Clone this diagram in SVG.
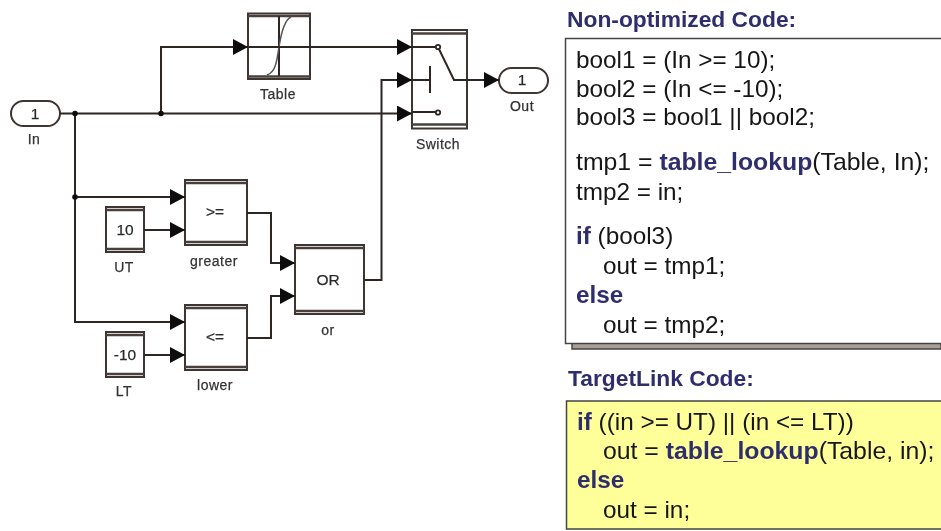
<svg xmlns="http://www.w3.org/2000/svg" width="941" height="531" viewBox="0 0 941 531">
<style>
.w{fill:none;stroke:#2e2522;stroke-width:2}
.b{fill:#fff;stroke:#3e3430;stroke-width:2}
.i{fill:none;stroke:#4a403c;stroke-width:2.6}
.l{font-family:"Liberation Sans",Arial,sans-serif;font-size:14px;font-weight:400;fill:#333;text-anchor:middle;letter-spacing:.5px;stroke:#333;stroke-width:.25}
.v{font-family:"Liberation Sans",Arial,sans-serif;font-size:15.500px;fill:#2c2c2c;text-anchor:middle;stroke:#2c2c2c;stroke-width:.25}
.c{font-family:"Liberation Sans",Arial,sans-serif;font-size:24.300px;fill:#151515}
.t{font-size:24.800px}
.k{font-weight:bold;fill:#2e2e6e}
.h{font-family:"Liberation Sans",Arial,sans-serif;font-size:22.800px;font-weight:bold;fill:#2e2e6e}
.d{fill:#111}
</style>
<defs>
<marker id="a" markerUnits="userSpaceOnUse" markerWidth="16" markerHeight="16" refX="15" refY="8" orient="auto"><path d="M0 0L15 8L0 16Z" fill="#111"/></marker>
<filter id="s" x="-2%" y="-2%" width="104%" height="104%"><feGaussianBlur stdDeviation="0.5"/></filter>
</defs>
<rect width="941" height="531" fill="#fff"/>
<g filter="url(#s)">
<g id="table"><rect class="b" x="248" y="13.500" width="62" height="65.500"/><path class="i" d="M248 16H310M248 76.500H310"/><path class="w" d="M279 16V76"/><path d="M267 75C276 72 277 60 279 47S284 20 291 17" fill="none" stroke="#555" stroke-width="1.500"/><text class="l" x="278" y="99">Table</text></g>
<g id="switch"><rect class="b" x="412" y="30" width="55" height="98.500"/><path class="i" d="M412 33.500H467M412 124.500H467"/><text class="l" x="438" y="149">Switch</text></g>
<g id="greater"><rect class="b" x="185" y="180" width="62" height="65"/><path class="i" d="M185 183H247M185 242H247"/><text class="v" x="215" y="217">&gt;=</text><text class="l" x="214" y="266">greater</text></g>
<g id="lower"><rect class="b" x="185" y="305" width="62" height="65"/><path class="i" d="M185 308H247M185 367H247"/><text class="v" x="215" y="342">&lt;=</text><text class="l" x="215" y="390">lower</text></g>
<g id="or"><rect class="b" x="295" y="245" width="69" height="69"/><path class="i" d="M295 248H364M295 311H364"/><text class="v" x="328" y="284.500">OR</text><text class="l" x="328" y="335">or</text></g>
<g id="ut"><rect class="b" x="106" y="207" width="38" height="45"/><path class="i" d="M106 210H144M106 249H144"/><text class="v" x="125" y="234.500">10</text><text class="l" x="124" y="272">UT</text></g>
<g id="lt"><rect class="b" x="106" y="332" width="38" height="45"/><path class="i" d="M106 335H144M106 374H144"/><text class="v" x="125" y="359.500">-10</text><text class="l" x="124" y="396">LT</text></g>
<g id="in"><rect class="b" x="11" y="101" width="49" height="25" rx="12.500"/><text class="v" x="35" y="118.500">1</text><text class="l" x="34" y="144">In</text></g>
<g id="out"><rect class="b" x="499" y="68" width="49" height="25" rx="12.500"/><text class="v" x="522" y="84.500">1</text><text class="l" x="522" y="111">Out</text></g>
<g id="connectors">
<path class="w" d="M60 113.500H412" marker-end="url(#a)"/>
<path class="w" d="M161 113.500V47H248" marker-end="url(#a)"/>
<path class="w" d="M248 47H412" marker-end="url(#a)"/>
<path class="w" d="M75 113.500V322H185" marker-end="url(#a)"/>
<path class="w" d="M75 197H185" marker-end="url(#a)"/>
<path class="w" d="M144 230H185" marker-end="url(#a)"/>
<path class="w" d="M144 355H185" marker-end="url(#a)"/>
<path class="w" d="M247 213H271V263H295" marker-end="url(#a)"/>
<path class="w" d="M247 338H271V296H295" marker-end="url(#a)"/>
<path class="w" d="M364 280H381.500V80H412" marker-end="url(#a)"/>
<path class="w" d="M412 47H438L454 80H499" marker-end="url(#a)"/>
<path class="w" d="M412 80H430M430 66V93M412 112H438"/>
<circle cx="438" cy="47" r="2.200" fill="#fff" stroke="#2e2522" stroke-width="1.800"/>
<circle cx="438" cy="112.500" r="2.200" fill="#fff" stroke="#2e2522" stroke-width="1.800"/>
<circle class="d" cx="75" cy="113.500" r="2.800"/><circle class="d" cx="161" cy="113.500" r="2.800"/><circle class="d" cx="75" cy="197" r="2.800"/>
</g>
<g id="code1">
<text class="h" x="567" y="27">Non-optimized Code:</text>
<path d="M572 344V349H941V344" fill="#a89e96" stroke="#4a4440" stroke-width="1.500"/>
<rect x="565.500" y="38.500" width="380" height="305" fill="#fff" stroke="#444" stroke-width="1.500"/>
<text class="c" x="576" y="68">bool1 = (In &gt;= 10);</text>
<text class="c" x="576" y="97">bool2 = (In &lt;= -10);</text>
<text class="c" x="576" y="125">bool3 = bool1 || bool2;</text>
<text class="c t" x="576" y="170">tmp1 = <tspan class="k">table_lookup</tspan>(Table, In);</text>
<text class="c" x="576" y="200">tmp2 = in;</text>
<text class="c" x="576" y="244"><tspan class="k">if</tspan> (bool3)</text>
<text class="c" x="603" y="274">out = tmp1;</text>
<text class="c k" x="576" y="303">else</text>
<text class="c" x="603" y="333">out = tmp2;</text>
</g>
<g id="code2">
<text class="h" x="568" y="386">TargetLink Code:</text>
<rect x="566.500" y="401" width="380" height="128" fill="#ffff99" stroke="#444" stroke-width="1.500"/>
<text class="c" x="577" y="430"><tspan class="k">if</tspan> ((in &gt;= UT) || (in &lt;= LT))</text>
<text class="c t" x="603" y="459">out = <tspan class="k">table_lookup</tspan>(Table, in);</text>
<text class="c k" x="577" y="488">else</text>
<text class="c" x="603" y="518">out = in;</text>
</g>
</g>
</svg>
